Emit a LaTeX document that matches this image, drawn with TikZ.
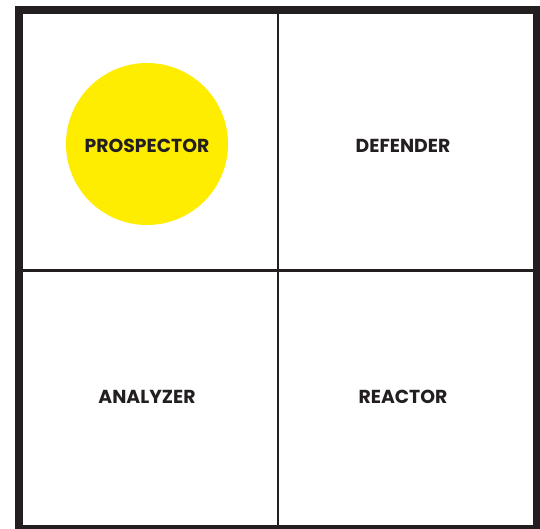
\documentclass[tikz,border=0pt]{standalone}
\usepackage{fontspec}
\newfontfamily\quadfont{Poppins}
\usepackage{tikz}
\definecolor{frameink}{HTML}{231F20}
\definecolor{spotyellow}{HTML}{FFED00}
\tikzset{
	quadlabel/.style={text=frameink, font=\quadfont\bfseries\fontsize{18.8}{22}\selectfont, inner sep=0pt}
}
\begin{document}
\begin{tikzpicture}[x=1pt, y=-1pt]
		% Page size of the reference
		\useasboundingbox (0,0) rectangle (540,529);
		\clip (0,0) rectangle (540,529);
		\fill[white] (0,0) rectangle (540,529);
		
		% Yellow spot behind the first quadrant
		\fill[spotyellow] (147,144) circle (81);
		
		% Outer frame and the two dividers
		\draw[frameink, line width=8pt] (18.5,10) rectangle (537,529);
		\draw[frameink, line width=2.6pt] (278,14) -- (278,525);
		\draw[frameink, line width=2.6pt] (22,270.5) -- (533,270.5);
		
		% Quadrant labels
		\node[quadlabel] (prospector) at (147,146) {PROSPECTOR};
		\node[quadlabel] (defender) at (403,146) {DEFENDER};
		\node[quadlabel] (analyzer) at (147,397) {ANALYZER};
		\node[quadlabel] (reactor) at (403,397) {REACTOR};
	\end{tikzpicture}
\end{document}
